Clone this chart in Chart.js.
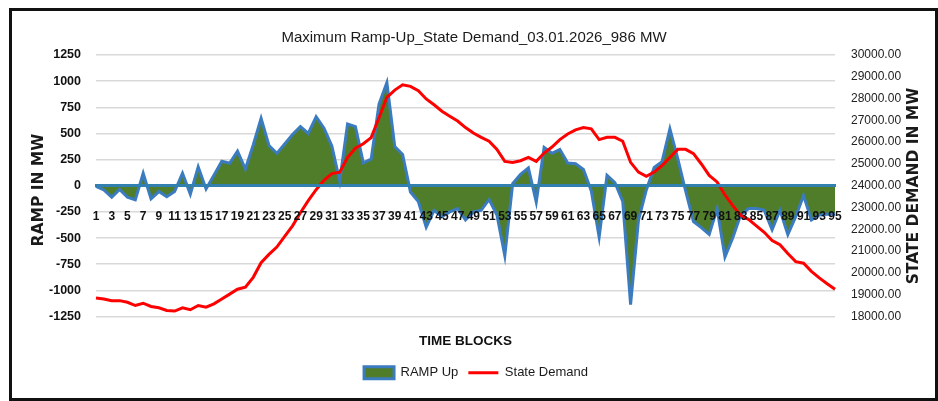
<!DOCTYPE html>
<html>
<head>
<meta charset="utf-8">
<script src="https://cdn.jsdelivr.net/npm/chart.js@4.4.1/dist/chart.umd.min.js"></script>
<style>
  body { margin: 0; background: #fff; }
  #box { position: absolute; left: 0; top: 0; width: 938px; height: 401px; }
  #frame { position: absolute; left: 9px; top: 8px; width: 929px; height: 393px; box-sizing: border-box; border: 3px solid #111; }
  canvas { position: absolute; left: 0; top: 0; }
</style>
</head>
<body>
<div id="box">
  <div id="frame"></div>
  <canvas id="rampChart" width="938" height="401"></canvas>
</div>
<script>
// Time blocks 1..95
const blocks = Array.from({ length: 95 }, (_, i) => String(i + 1));

// Ramp (MW) per block
const rampUp = [
  -5, -40, -110, -35, -110, -135, 120, -125, -55, -105,
  -55, 120, -80, 180, -30, 100, 235, 215, 330, 160,
  390, 645, 385, 310, 400, 490, 566, 500, 660, 550,
  380, 45, 590, 566, 220, 255, 780, 986, 375, 300,
  -60, -150, -395, -235, -295, -250, -218, -327, -250, -233,
  -131, -280, -668, 20, 109, 171, -155, 367, 311, 348,
  218, 211, 155, -50, -491, 100, 31, -150, -1135, -330,
  -40, 175, 230, 544, 260, -50, -342, -400, -465, -220,
  -680, -497, -280, -218, -218, -233, -420, -233, -466, -295,
  -93, -326, -280, -273, -273
];

// State demand (MW) per block
const stateDemand = [
  18850, 18805, 18730, 18730, 18656, 18506, 18611, 18462, 18402, 18282,
  18252, 18402, 18312, 18506, 18432, 18581, 18805, 19029, 19253, 19350,
  19800, 20470, 20850, 21190, 21680, 22160, 22760, 23320, 23820, 24250,
  24560, 24620, 25300, 25720, 25930, 26210, 27120, 28060, 28390, 28630,
  28560, 28358, 27985, 27716, 27418, 27194, 26970, 26671, 26418, 26224,
  26044, 25671, 25119, 25074, 25149, 25298, 25119, 25500, 25776, 26119,
  26373, 26567, 26671, 26612, 26119, 26224, 26224, 26044, 25074, 24627,
  24432, 24627, 24925, 25298, 25671, 25671, 25477, 25000, 24477, 24179,
  23582, 23089, 22641, 22462, 22163, 21865, 21491, 21298, 20895, 20521,
  20447, 20074, 19775, 19507, 19253
];

const chartTitle = 'Maximum Ramp-Up_State Demand_03.01.2026_986 MW';
const leftTitle = 'RAMP IN MW';
const rightTitle = 'STATE DEMAND IN MW';
const xTitle = 'TIME BLOCKS';

const SANS = "'Liberation Sans', Arial, sans-serif";
const WIDE = "'DejaVu Sans', Verdana, sans-serif";

// titles drawn by hand (rotated right title reads bottom-up, like the original)
const extraText = {
  id: 'extraText',
  afterDraw(chart) {
    const c = chart.ctx;
    c.save();
    c.fillStyle = '#1a1a1a';
    c.textAlign = 'center';
    c.textBaseline = 'middle';
    c.font = "15px " + SANS;
    c.fillText(chartTitle, 474, 38);
    c.font = "bold 15.5px " + WIDE;
    c.translate(39, 190);
    c.rotate(-Math.PI / 2);
    c.fillText(leftTitle, 0, 0);
    c.restore();

    c.save();
    c.fillStyle = '#1a1a1a';
    c.textAlign = 'center';
    c.textBaseline = 'middle';
    c.font = "bold 15.5px " + WIDE;
    c.translate(914, 186);
    c.rotate(-Math.PI / 2);
    c.fillText(rightTitle, 0, 0);
    c.restore();
  }
};

const ctx = document.getElementById('rampChart').getContext('2d');
new Chart(ctx, {
  type: 'line',
  data: {
    labels: blocks,
    datasets: [{
      label: 'RAMP Up',
      data: rampUp,
      yAxisID: 'y',
      borderColor: '#3b7bbf',
      backgroundColor: '#507d2a',
      borderWidth: 3,
      fill: 'origin',
      pointRadius: 0,
      pointStyle: 'rect',
      tension: 0,
      order: 2
    }, {
      label: 'State Demand',
      data: stateDemand,
      yAxisID: 'y1',
      borderColor: '#ff0000',
      backgroundColor: '#ff0000',
      borderWidth: 3,
      fill: false,
      pointRadius: 0,
      pointStyle: 'line',
      tension: 0,
      order: 1
    }]
  },
  options: {
    responsive: false,
    animation: false,
    layout: { padding: { top: 55, left: 24, right: 10, bottom: 11.75 } },
    plugins: {
      title: { display: false },
      tooltip: { enabled: false },
      legend: {
        position: 'bottom',
        labels: {
          usePointStyle: true,
          pointStyleWidth: 30,
          boxWidth: 30,
          boxHeight: 12,
          padding: 10,
          color: '#1a1a1a',
          font: { family: SANS, size: 13 },
          sort: (a, b) => a.datasetIndex - b.datasetIndex
        }
      }
    },
    scales: {
      x: {
        type: 'category',
        position: { y: 0 },
        offset: false,
        grid: { display: false },
        border: { display: true, color: '#3180b0', width: 3, z: 1 },
        ticks: {
          z: 1,
          autoSkip: false,
          maxRotation: 0,
          minRotation: 0,
          padding: 16,
          color: '#111',
          font: { family: SANS, size: 12, weight: 'bold' },
          callback: (v, i) => (i % 2 === 0 ? blocks[i] : '')
        }
      },
      xt: {
        type: 'category',
        position: 'bottom',
        offset: false,
        grid: { display: false },
        border: { display: false },
        ticks: { display: false },
        title: {
          display: true,
          text: xTitle,
          color: '#111',
          font: { family: SANS, size: 13.5, weight: 'bold', lineHeight: 1.2 },
          padding: { top: 9, bottom: 6.5 }
        }
      },
      y: {
        position: 'left',
        min: -1250,
        max: 1250,
        afterFit: (s) => { s.width = 72; },
        grid: { color: '#d9d9d9', lineWidth: 1.5, drawTicks: false },
        border: { display: false },
        ticks: {
          stepSize: 250,
          padding: 15,
          color: '#111',
          font: { family: SANS, size: 12.5, weight: 'bold' },
          callback: (v) => String(v)
        }
      },
      y1: {
        position: 'right',
        min: 18000,
        max: 30000,
        afterFit: (s) => { s.width = 93; },
        grid: { display: false, drawTicks: false },
        border: { display: false },
        ticks: {
          stepSize: 1000,
          padding: 16,
          color: '#222',
          font: { family: SANS, size: 12 },
          callback: (v) => Number(v).toFixed(2)
        }
      }
    }
  },
  plugins: [extraText]
});
</script>
</body>
</html>
